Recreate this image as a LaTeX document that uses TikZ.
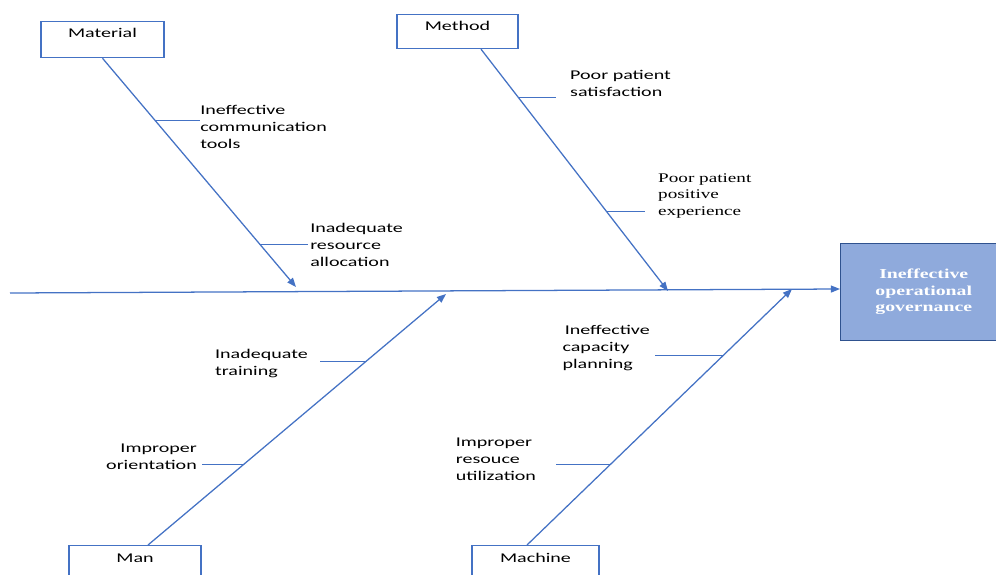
\documentclass[tikz,border=0pt]{standalone}
\usepackage{fontspec}
\usepackage{tikz}
\usetikzlibrary{arrows.meta,positioning,calc}
\newfontfamily\bonefont[FakeStretch=1.5]{Carlito}
\newfontfamily\serifbone[FakeStretch=1.45]{Liberation Serif}
\definecolor{boneblue}{HTML}{4472C4}
\definecolor{effectfill}{HTML}{8FAADC}
\definecolor{effectedge}{HTML}{2F528F}

\begin{document}
\begin{tikzpicture}[x=0.025cm,y=-0.025cm,
  every node/.style={font=\bonefont\fontsize{9.5}{12}\selectfont},
  catbox/.style={draw=boneblue,line width=1pt,inner ysep=0pt,text height=11.5pt,text depth=14pt,anchor=north},
  cause/.style={align=left,inner ysep=0pt},
  effect/.style={draw=effectedge,line width=1pt,fill=effectfill,text=white,align=center,
    minimum width=4.15cm,minimum height=2.425cm,
    font=\serifbone\bfseries\fontsize{9.7}{11.7}\selectfont},
  bone/.style={boneblue,line width=0.9pt,-{Triangle[length=6.5pt,width=5pt]}},
  twig/.style={boneblue,line width=0.7pt}]
  \useasboundingbox (0,0) rectangle (996,574);
  \clip (0,0) rectangle (996,574);
  % categories
  \node[catbox,minimum width=3.075cm] (mat) at (102.5,21) {Material};
  \node[catbox,minimum width=3.025cm,text height=11pt,text depth=13pt] (met) at (457.5,14) {Method};
  \node[catbox,minimum width=3.3cm,text height=12pt] (man) at (135,545) {Man};
  \node[catbox,minimum width=3.175cm,text height=12pt] (mach) at (535.5,545) {Machine};
  % effect
  \node[effect,anchor=west] (eff) at (840,292) {Ineffective\\operational\\governance};
  % spine
  \coordinate (tail) at (10,293);
  \draw[bone] (tail) -- ([yshift=0.075cm]eff.west);
  % bones
  \coordinate (matend) at (296,287);
  \coordinate (metroot) at ($(met.south)+(23.5,0)$);
  \coordinate (metend) at (668,291);
  \coordinate (manroot) at ($(man.north)+(13,0)$);
  \coordinate (manend) at (446,294);
  \coordinate (machroot) at ($(mach.north)+(-8.5,0)$);
  \coordinate (machend) at (792,289);
  \draw[bone] (mat.south) -- (matend);
  \draw[bone] (metroot) -- (metend);
  \draw[bone] (manroot) -- (manend);
  \draw[bone] (machroot) -- (machend);
  % causes
  \node[cause,anchor=west,inner xsep=0pt] (comm) at (200,127) {Ineffective\\communication\\tools};
  \node[cause,anchor=west,inner xsep=1.4pt] (alloc) at (308,245) {Inadequate\\resource\\allocation};
  \node[cause,anchor=west,inner xsep=9.9pt] (sat) at (556,83.5) {Poor patient\\satisfaction};
  \node[cause,anchor=west,inner xsep=9.2pt,font=\serifbone\fontsize{9.4}{11.7}\selectfont] (pos) at (645,196) {Poor patient\\positive\\experience};
  \node[cause,anchor=east,inner xsep=8.5pt] (train) at (320,363.5) {Inadequate\\training};
  \node[cause,anchor=east,align=right,inner xsep=3.5pt] (orient) at (202,456.5) {Improper\\orientation};
  \node[cause,anchor=east,inner xsep=3.5pt] (cap) at (655,348) {\,Ineffective\\capacity\\planning};
  \node[cause,anchor=east,inner xsep=14pt] (util) at (556,459) {Improper\\resouce\\utilization};
  % twigs
  \coordinate (commb) at ($(mat.south)!0.27!(matend)$);
  \coordinate (allocb) at ($(mat.south)!0.813!(matend)$);
  \coordinate (satb) at ($(metroot)!0.2016!(metend)$);
  \coordinate (posb) at ($(metroot)!0.671!(metend)$);
  \coordinate (trainb) at ($(manroot)!0.733!(manend)$);
  \coordinate (orientb) at ($(manroot)!0.319!(manend)$);
  \coordinate (capb) at ($(machroot)!0.742!(machend)$);
  \coordinate (utilb) at ($(machroot)!0.316!(machend)$);
  \draw[twig] (commb) -- (commb -| comm.west);
  \draw[twig] (allocb) -- (allocb -| alloc.west);
  \draw[twig] (satb) -- (satb -| sat.west);
  \draw[twig] (posb) -- (posb -| pos.west);
  \draw[twig] (trainb) -- (trainb -| train.east);
  \draw[twig] (orientb) -- (orientb -| orient.east);
  \draw[twig] (capb) -- (capb -| cap.east);
  \draw[twig] (utilb) -- (utilb -| util.east);
\end{tikzpicture}
\end{document}
